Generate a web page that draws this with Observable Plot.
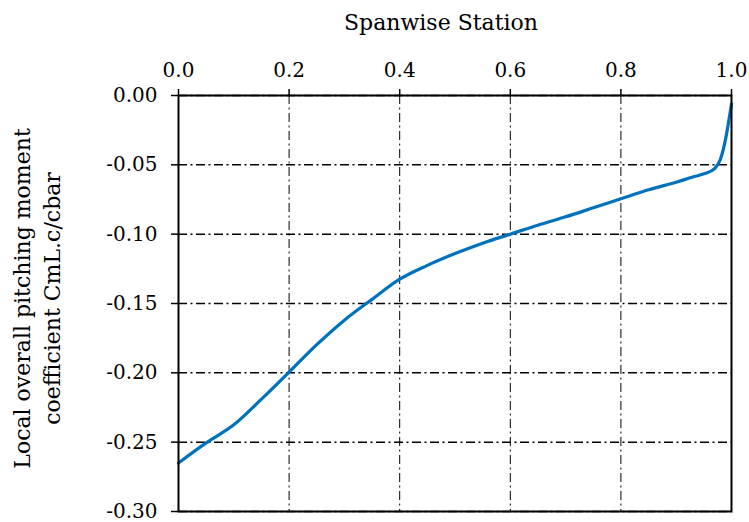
<!DOCTYPE html>
<html>
<head>
<meta charset="utf-8">
<script src="https://cdn.jsdelivr.net/npm/d3@7"></script>
<script src="https://cdn.jsdelivr.net/npm/@observablehq/plot@0.6"></script>
<style>
  html, body { margin: 0; padding: 0; background: white; }
</style>
</head>
<body>
<div id="chart"></div>
<script>
const xTitle = "Spanwise Station";
const yTitle = "Local overall pitching moment\ncoefficient CmL.c/cbar";
const xTicks = [0, 0.2, 0.4, 0.6, 0.8, 1.0];
const yTicks = [0, -0.05, -0.10, -0.15, -0.20, -0.25, -0.30];

const station = [0, 0.05, 0.1, 0.15, 0.2, 0.25, 0.3, 0.35, 0.4, 0.45, 0.5, 0.55, 0.6, 0.65, 0.7, 0.75, 0.8, 0.85, 0.9, 0.93, 0.95, 0.97, 0.98, 0.99, 1.0];
const cm = [-0.265, -0.2505, -0.2375, -0.219, -0.1995, -0.1797, -0.162, -0.147, -0.1325, -0.1225, -0.114, -0.1065, -0.100, -0.0935, -0.0875, -0.081, -0.0745, -0.068, -0.0625, -0.0588, -0.0565, -0.0525, -0.046, -0.030, -0.006];

const data = station.map((x, i) => ({x, y: cm[i]}));

const dashDot = "9,3.5,2,3.5";

const chart = Plot.plot({
  width: 749,
  height: 522,
  marginLeft: 178,
  marginRight: 18,
  marginTop: 95,
  marginBottom: 11,
  style: {fontFamily: "DejaVu Serif", fontSize: "20px", color: "black", background: "white"},
  x: {domain: [0, 1]},
  y: {domain: [-0.30, 0]},
  marks: [
    Plot.gridX(xTicks, {stroke: "black", strokeOpacity: 1, strokeWidth: 1, strokeDasharray: dashDot}),
    Plot.gridY(yTicks, {stroke: "black", strokeOpacity: 1, strokeWidth: 1.5, strokeDasharray: dashDot}),
    Plot.line(data, {x: "x", y: "y", stroke: "#0072BD", strokeWidth: 3.2, curve: "monotone-x"}),
    Plot.frame({stroke: "black", strokeWidth: 2}),
    Plot.axisX(xTicks, {anchor: "top", tickSize: 7, tickPadding: 12, strokeWidth: 1.5, tickFormat: d => d.toFixed(1), label: null}),
    Plot.axisY(yTicks, {anchor: "left", tickSize: 7, tickPadding: 14, strokeWidth: 1.5, tickFormat: d => d.toFixed(2), label: null}),
    Plot.text([xTitle], {frameAnchor: "top", dx: -14, dy: -81, fill: "black", fontSize: 22}),
    Plot.text([yTitle], {frameAnchor: "left", textAnchor: "middle", rotate: -90, dx: -143, dy: -5, lineHeight: 1.35, fill: "black", fontSize: 22})
  ]
});
document.getElementById("chart").appendChild(chart);
</script>
</body>
</html>
